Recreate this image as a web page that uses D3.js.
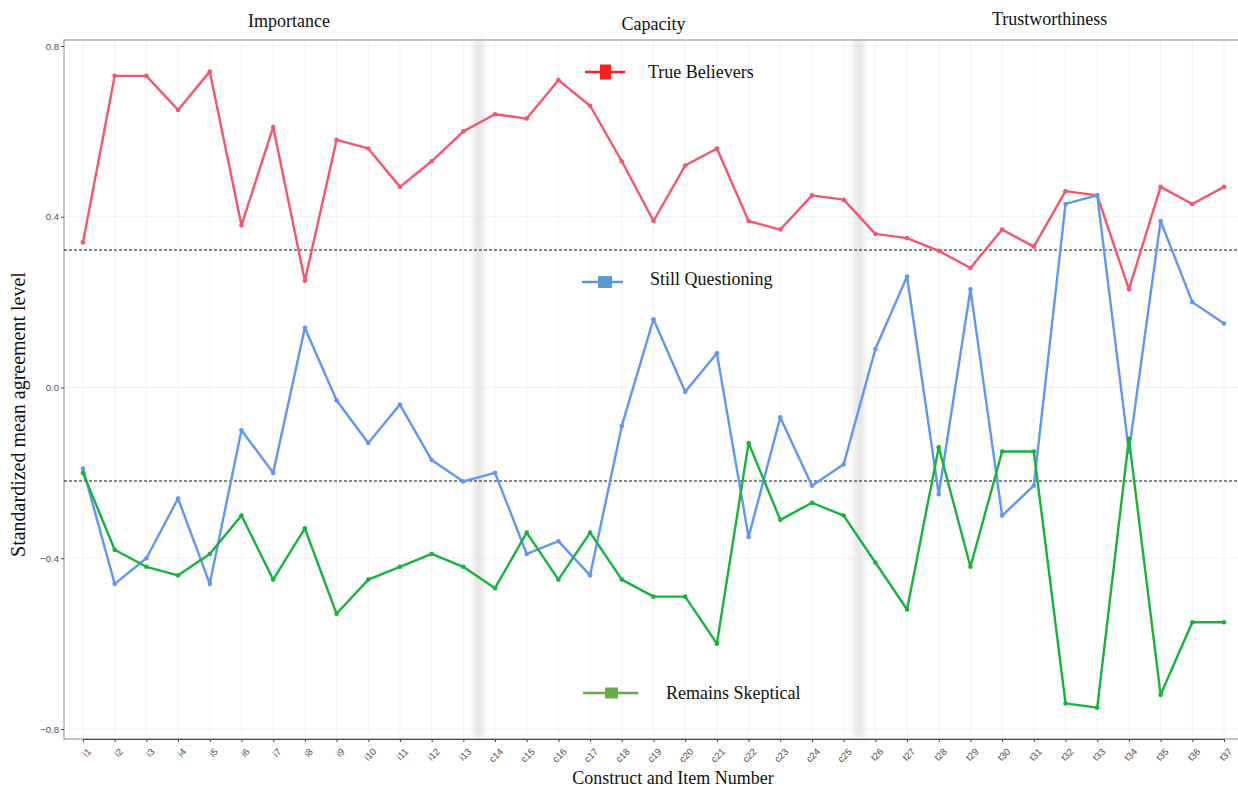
<!DOCTYPE html>
<html>
<head>
<meta charset="utf-8">
<script src="https://cdn.jsdelivr.net/npm/d3@7"></script>
<style>
  body { margin: 0; background: #fff; }
  text { font-family: "Liberation Serif", "Times New Roman", serif; }
  .tick-label { font-family: "Liberation Sans", Arial, sans-serif; font-size: 9.5px; fill: #4d4d4d; }
</style>
</head>
<body>
<div id="chart"></div>
<script>
// item labels along the x axis
const items = [
  "i1","i2","i3","i4","i5","i6","i7","i8","i9","i10","i11","i12","i13",
  "c14","c15","c16","c17","c18","c19","c20","c21","c22","c23","c24","c25",
  "t26","t27","t28","t29","t30","t31","t32","t33","t34","t35","t36","t37"
];

const trueBelievers = [
  0.34, 0.73, 0.73, 0.65, 0.74, 0.38, 0.61, 0.25, 0.58, 0.56, 0.47, 0.53, 0.60,
  0.64, 0.63, 0.72, 0.66, 0.53, 0.39, 0.52, 0.56, 0.39, 0.37, 0.45, 0.44,
  0.36, 0.35, 0.32, 0.28, 0.37, 0.33, 0.46, 0.45, 0.23, 0.47, 0.43, 0.47
];
const stillQuestioning = [
  -0.19, -0.46, -0.40, -0.26, -0.46, -0.10, -0.20, 0.14, -0.03, -0.13, -0.04, -0.17, -0.22,
  -0.20, -0.39, -0.36, -0.44, -0.09, 0.16, -0.01, 0.08, -0.35, -0.07, -0.23, -0.18,
  0.09, 0.26, -0.25, 0.23, -0.30, -0.23, 0.43, 0.45, -0.15, 0.39, 0.20, 0.15
];
const remainsSkeptical = [
  -0.20, -0.38, -0.42, -0.44, -0.39, -0.30, -0.45, -0.33, -0.53, -0.45, -0.42, -0.39, -0.42,
  -0.47, -0.34, -0.45, -0.34, -0.45, -0.49, -0.49, -0.60, -0.13, -0.31, -0.27, -0.30,
  -0.41, -0.52, -0.14, -0.42, -0.15, -0.15, -0.74, -0.75, -0.12, -0.72, -0.55, -0.55
];

const seriesNames = ["True Believers", "Still Questioning", "Remains Skeptical"];
const constructs = ["Importance", "Capacity", "Trustworthiness"];
const constructEnds = ["i13", "c25"];       // last item of each construct but the final one
const thresholds = [0.322, -0.219];
const yTicks = [-0.8, -0.4, 0.0, 0.4, 0.8];

const W = 1238, H = 788;
const margin = { top: 40, right: -4, bottom: 49, left: 64 };
const width = W - margin.left - margin.right;
const height = H - margin.top - margin.bottom;

const lineColors = ["#f5566b", "#6096f4", "#17b33a"];
const keyColors = ["#ff1f1f", "#5b9bd5", "#6aad47"];

const svg = d3.select("#chart")
  .append("svg")
  .attr("width", W)
  .attr("height", H)
  .append("g")
  .attr("transform", `translate(${margin.left}, ${margin.top})`);

const x = d3.scalePoint().domain(items).range([19, 1160]);
const y = d3.scaleLinear().domain([-0.8, 0.8]).range([689, 6]);

const defs = svg.append("defs");
defs.append("filter").attr("id", "soft")
  .attr("x", "-200%").attr("width", "500%")
  .append("feGaussianBlur").attr("stdDeviation", 3);

// grid
svg.append("g").selectAll("line").data(items).join("line")
  .attr("x1", d => x(d)).attr("x2", d => x(d))
  .attr("y1", 0).attr("y2", height)
  .attr("stroke", "#f3f3f3").attr("stroke-width", 1);
svg.append("g").selectAll("line").data(yTicks).join("line")
  .attr("x1", 0).attr("x2", width)
  .attr("y1", d => y(d)).attr("y2", d => y(d))
  .attr("stroke", "#f3f3f3").attr("stroke-width", 1);

// soft separators between constructs
const step = x.step();
svg.append("g").selectAll("rect").data(constructEnds).join("rect")
  .attr("x", d => x(d) + step / 2 - 5)
  .attr("y", 0).attr("width", 9).attr("height", height)
  .attr("fill", "#e2e2e2")
  .attr("filter", "url(#soft)");

// panel border
svg.append("rect")
  .attr("width", width).attr("height", height)
  .attr("fill", "none").attr("stroke", "#8a8a8a").attr("stroke-width", 1);

// reference lines
svg.append("g").selectAll("line").data(thresholds).join("line")
  .attr("x1", 0).attr("x2", width)
  .attr("y1", d => y(d)).attr("y2", d => y(d))
  .attr("stroke", "#111").attr("stroke-width", 1)
  .attr("stroke-dasharray", "3,2");

// axes
const yAxis = svg.append("g")
  .call(d3.axisLeft(y).tickValues(yTicks).tickFormat(d3.format(".1f")).tickSize(3).tickPadding(2));
yAxis.select(".domain").remove();
yAxis.selectAll("line").attr("stroke", "#444");
yAxis.selectAll("text").attr("class", "tick-label");

const xAxis = svg.append("g")
  .attr("transform", `translate(0, ${height})`)
  .call(d3.axisBottom(x).tickSize(3));
xAxis.select(".domain").attr("stroke", "#444");
xAxis.selectAll("line").attr("stroke", "#444");
xAxis.selectAll("text")
  .attr("class", "tick-label")
  .attr("text-anchor", "end")
  .attr("dy", 0)
  .attr("transform", "translate(4, 9) rotate(-45)");

// series
const allSeries = [trueBelievers, stillQuestioning, remainsSkeptical];
const line = d3.line().x((d, i) => x(items[i])).y(d => y(d));

allSeries.forEach((vals, s) => {
  svg.append("path")
    .datum(vals)
    .attr("fill", "none")
    .attr("stroke", lineColors[s])
    .attr("stroke-width", 2.4)
    .attr("stroke-linejoin", "round")
    .attr("d", line);
  svg.append("g").selectAll("circle").data(vals).join("circle")
    .attr("cx", (d, i) => x(items[i]))
    .attr("cy", d => y(d))
    .attr("r", 2.3)
    .attr("fill", lineColors[s]);
});

// in-panel keys
const keyPos = [
  { x1: 521, x2: 561, yc: 32, sx: 536, sw: 11, sh: 15, tx: 584, ty: 38 },
  { x1: 518, x2: 559, yc: 242, sx: 534, sw: 14, sh: 12, tx: 586, ty: 245 },
  { x1: 519, x2: 574, yc: 653, sx: 541, sw: 13, sh: 11, tx: 602, ty: 659 }
];
seriesNames.forEach((name, s) => {
  const k = keyPos[s];
  const g = svg.append("g");
  g.append("line")
    .attr("x1", k.x1).attr("x2", k.x2).attr("y1", k.yc).attr("y2", k.yc)
    .attr("stroke", keyColors[s]).attr("stroke-width", 2.6);
  g.append("rect")
    .attr("x", k.sx).attr("y", k.yc - k.sh / 2)
    .attr("width", k.sw).attr("height", k.sh)
    .attr("fill", keyColors[s]);
  g.append("text")
    .attr("x", k.tx).attr("y", k.ty)
    .attr("font-size", 18).attr("fill", "#111")
    .text(name);
});

// construct headers above the panel
const headerAt = [7.5, 19, 31.5];
const headerY = [-13, -10, -15];
constructs.forEach((c, i) => {
  svg.append("text")
    .attr("x", x(items[0]) + (headerAt[i] - 1) * step)
    .attr("y", headerY[i])
    .attr("text-anchor", "middle")
    .attr("font-size", 18).attr("fill", "#111")
    .text(c);
});

// axis titles
svg.append("text")
  .attr("x", 609).attr("y", height + 45)
  .attr("text-anchor", "middle")
  .attr("font-size", 18).attr("fill", "#111")
  .text("Construct and Item Number");

svg.append("text")
  .attr("transform", `translate(-39, ${height / 2 + 25}) rotate(-90)`)
  .attr("text-anchor", "middle")
  .attr("font-size", 20).attr("fill", "#111")
  .text("Standardized mean agreement level");
</script>
</body>
</html>
